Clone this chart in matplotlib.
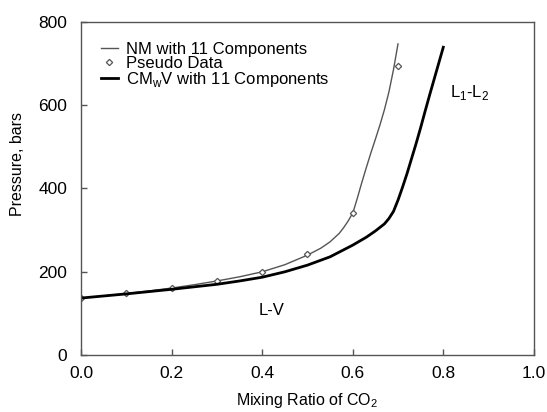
import numpy as np
import matplotlib
matplotlib.use('Agg')
import matplotlib.pyplot as plt

plt.rcParams['font.family'] = ['Liberation Sans', 'DejaVu Sans']

# NM with 11 components (thin line)
nm_x = [0.0, 0.05, 0.1, 0.15, 0.2, 0.25, 0.3, 0.35, 0.4, 0.45, 0.5, 0.53, 0.55,
        0.57, 0.58, 0.59, 0.6, 0.605, 0.61, 0.615, 0.62, 0.63, 0.64, 0.65, 0.66,
        0.67, 0.68, 0.69, 0.70]
nm_p = [137, 142, 148, 154, 161, 169, 178, 188, 200, 217, 240, 257, 272,
        292, 306, 322, 341, 358, 376, 395, 414, 450, 485, 518, 552,
        589, 632, 685, 747]

# CMwV with 11 components (thick line)
cm_x = [0.0, 0.1, 0.2, 0.3, 0.35, 0.4, 0.45, 0.5, 0.55, 0.6, 0.63, 0.65, 0.67,
        0.68, 0.69, 0.70, 0.71, 0.72, 0.73, 0.74, 0.75, 0.76, 0.77, 0.78, 0.79, 0.80]
cm_p = [137, 147, 158, 170, 178, 187, 200, 216, 236, 264, 283, 298, 315,
        328, 345, 372, 403, 436, 472, 508, 546, 586, 625, 663, 701, 739]

# pseudo data points
pd_x = [0.0, 0.1, 0.2, 0.3, 0.4, 0.5, 0.6, 0.7]
pd_p = [137, 149, 161, 179, 200, 243, 341, 693]

fig = plt.figure(figsize=(5.47, 4.12), dpi=100)
ax = fig.add_axes([0.148, 0.138, 0.828, 0.809])

ax.plot(nm_x, nm_p, color='#555555', lw=1.0, label='NM with 11 Components')
ax.plot(pd_x, pd_p, ls='none', marker='D', ms=3.2, mfc='white', mec='#555555',
        mew=0.9, label='Pseudo Data')
ax.plot(cm_x, cm_p, color='black', lw=2.0, label='CM$_\\mathregular{w}$V with 11 Components')

ax.set_xlim(0, 1.0)
ax.set_ylim(0, 800)
ax.set_xticks(np.arange(0, 1.01, 0.2))
ax.set_xticklabels(['0.0', '0.2', '0.4', '0.6', '0.8', '1.0'])
ax.set_yticks([0, 200, 400, 600, 800])
ax.tick_params(direction='in', length=4, width=1, color='#555555', labelsize=12.5)
ax.tick_params(axis='y', pad=10)
ax.tick_params(axis='x', pad=8)

for s in ax.spines.values():
    s.set_color('#555555')
    s.set_linewidth(1.0)

ax.set_xlabel('Mixing Ratio of CO$_\\mathregular{2}$', fontsize=11.5, labelpad=7)
ax.set_ylabel('Pressure, bars', fontsize=11.5)
ax.yaxis.set_label_coords(-0.124, 0.574)

ax.text(0.393, 108, 'L-V', fontsize=12, va='center', ha='left')
ax.text(0.815, 631, 'L$_\\mathregular{1}$-L$_\\mathregular{2}$', fontsize=12, va='center', ha='left')

ax.legend(loc='upper left', bbox_to_anchor=(0.044, 0.94), frameon=False, fontsize=12,
          handlelength=1.0, handletextpad=0.5, labelspacing=-0.05, borderaxespad=0,
          borderpad=0)

fig.savefig('out.png', dpi=100)
